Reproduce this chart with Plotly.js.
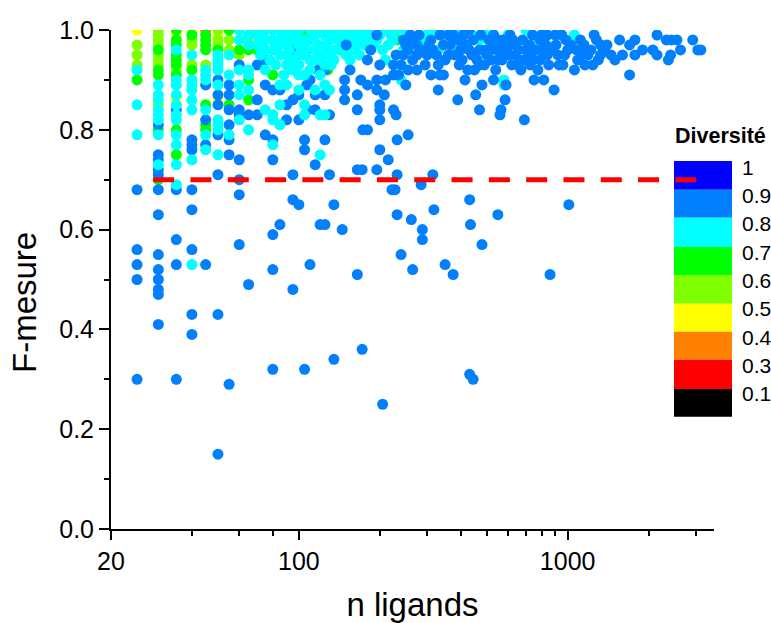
<!DOCTYPE html>
<html><head><meta charset="utf-8">
<script src="https://cdn.plot.ly/plotly-3.0.1.min.js"></script>
<style>html,body{margin:0;padding:0;background:#fff;overflow:hidden}</style></head>
<body><div id="chart" style="width:771px;height:623px"></div>
<script>
const orangePts=[[45,1.0]];
const yellowPts=[[25,1.0],[35,.99],[40,1.0],[35,.86],[30,.86],[50,.86],[50,.99],[65,.98]];
const limePts=[[25,.97],[25,.95],[25,.93],[30,1.0],[30,.99],[30,.98],[30,.97],[30,.95],[30,.94],[30,.93],[30,.85],
[35,.92],[40,.98],[40,.97],[40,.93],[45,.93],[50,1.0],[50,.97],[50,.98],[55,.98],[55,.96],[60,.95]];
const greenPts=[[25,.90],[30,.96],[30,.92],[30,.91],[30,.80],[30,.70],[35,1.0],[35,.98],[35,.97],[35,.95],[35,.94],[35,.93],[35,.91],[35,.80],[35,.75],
[40,.99],[40,.92],[45,.99],[45,.98],[45,.97],[45,.96],[45,.85],[45,.81],[45,.80],[50,.96],[55,1.0],[55,.85],[60,.96],[65,.96],[65,.90],[65,.86],[70,.96],[80,.91],
[92,.99],[96,.95],[105,.99],[130,1.0],[150,1.0],[128,.92],[232,.98]];
const blueLow=[[25,.68],[25,.56],[25,.53],[25,.50],[25,.30],[30,.81],[30,.75],[30,.74],[30,.72],[30,.71],[30,.68],[30,.63],[30,.55],[30,.52],[30,.50],[30,.48],[30,.47],[30,.41],
[35,.84],[35,.68],[35,.58],[35,.53],[35,.30],[40,.78],[40,.77],[40,.76],[40,.68],[40,.64],[40,.56],[40,.43],[40,.39],[45,.89],[45,.82],[45,.77],[45,.53],
[50,.90],[50,.87],[50,.85],[50,.79],[50,.71],[50,.43],[50,.15],[55,.89],[55,.87],[55,.84],[55,.81],[55,.78],[55,.75],[55,.29],[60,.93],[60,.84],[60,.83],[60,.74],[60,.70],[60,.67],[60,.57],
[65,.83],[65,.49],[70,.93],[70,.86],[70,.83],[75,.94],[75,.89],[75,.79],[80,.88],[80,.78],[80,.74],[80,.59],[80,.52],[80,.32],[85,.88],[85,.61],[90,.85],[90,.82],[95,.86],[95,.96],[95,.93],[95,.71],[95,.66],[95,.48],[100,.65],
[100,.87],[100,.82],[105,.78],[105,.76],[105,.32],[107,.89],[108,.84],[110,.90],[110,.53],[115,.87],[115,.84],[115,.73],[118,.92],[120,.61],[125,.92],[125,.87],[125,.78],[125,.61],[130,.83],[130,.71],[135,.65],[135,.34],[145,.60]];
const cyanPts=[[25,.92],[25,.85],[25,.79],[30,.89],[30,.87],[30,.86],[30,.84],[30,.83],[30,.82],[30,.79],[30,.73],[35,.96],[35,.90],[35,.89],[35,.87],[35,.85],[35,.83],[35,.82],[35,.79],[35,.77],[35,.73],[35,.69],
[40,.95],[40,.90],[40,.89],[40,.88],[40,.86],[40,.84],[40,.74],[40,.53],[45,.92],[45,.91],[45,.90],[45,.84],[45,.79],[45,.76],[50,.95],[50,.94],[50,.93],[50,.92],[50,.89],[50,.82],[50,.81],[50,.80],[50,.75],
[55,.95],[55,.91],[55,.79],[60,1.0],[60,.98],[60,.92],[60,.89],[60,.87],[60,.82],[65,.99],[65,.97],[65,.92],[65,.91],[65,.88],[65,.80],[70,.99],[70,1.0],[75,1.0],[75,.98],[75,.92],[75,.84],
[80,.98],[80,.96],[80,.83],[80,.82],[80,.77],[85,1.0],[85,.98],[85,.95],[85,.89],[85,.85],[85,.81],[90,1.0],[90,.97],[90,.95],[90,.93],[95,1.0],[95,.98],[95,.94],[100,1.0],[100,.97],[100,.91],[100,.88],
[105,.98],[105,.95],[105,.91],[105,.85],[105,.83],[110,1.0],[110,.98],[110,.94],[115,.99],[115,.96],[115,.88],[120,1.0],[120,.94],[120,.83],[120,.75],[125,.99],[125,.97],[125,.93],[125,.89],[125,.83],[130,.98],[130,.95],[130,.88],
[135,1.0],[135,.96],[135,.94],[140,.98],[145,.99],[150,.95],[155,.98],[155,.94],[160,1.0],[165,.97],[170,.99],[180,.98],[180,1.0],[190,.97],[200,.99],[205,.96],[210,.94],[210,1.0],[225,.98],[240,.90],[250,1.0],[270,.98],[300,.99],[315,1.0],
[340,.99],[385,.97],[400,1.0],[440,.99],[470,.98],[495,.99],[530,.99],[480,.96],[580,.90],[580,.89],[600,.99],[700,1.0],[755,.98],[815,.98],[1060,.99],
[70,.97],[72,.95],[75,.96],[78,.94],[80,1.0],[82,.93],[85,.97],[88,.99],[88,.91],[90,.89],[92,.96],[95,.92],[98,.99],[100,.95],[100,.93],[103,.97],[108,.96],[110,.92],[112,.99],[115,.94],[118,.97],[120,.91],[122,.95],[128,1.0],[128,.96],[132,.93],[138,.99],[142,.96],[148,.98],[152,1.0],[158,.96],[162,.99],[168,.95],[175,.97],[185,1.0],[195,.98],[205,1.0],[215,.97],[220,.99],[235,1.0],[245,.96],[290,.98],[330,.96]];
const blueHigh=[[148,.90],[148,.88],[148,.86],[155,.92],[150,.97],[165,.87],[165,.84],[165,.72],[172,.72],[170,.90],[173,.80],[180,.80],[180,.94],[180,.89],[185,.96],[165,.51],[172,.36],[195,.88],[195,.72],[195,.90],[195,.99],
[200,.93],[200,.85],[200,.84],[200,.82],[200,.76],[205,.25],[208,.87],[210,.90],[215,.74],[222,.68],[225,.93],[225,.91],[225,.84],[228,.68],[230,.83],[230,.95],[232,.78],[232,.63],[232,.71],[235,.91],[240,.93],[240,.55],[245,.98],[250,.89],[250,.97],[255,.92],[255,.79],[260,.99],
[262,.62],[265,.94],[265,.52],[275,.92],[275,.95],[275,.97],[280,.99],[285,.69],[288,.60],[288,.58],[310,.98],[310,.91],[315,.96],[315,.71],[318,.64],[330,.93],[330,.88],[335,.91],[345,.91],[350,.53],[360,.95],[360,.99],[375,.51],[390,.86],[395,.93],[410,.99],[415,.90],
[430,.96],[432,.66],[435,.61],[432,.31],[445,.30],[450,.92],[455,.87],[470,.84],[470,.93],[480,.89],[480,.57],[490,.93],[495,.96],[510,.98],[530,.97],[530,.99],[530,.90],[540,.92],[550,.94],[550,.63],[560,.83],[565,.84],[570,.94],[585,.86],[590,.97],[590,.95],[590,.89],[620,.93],[640,.97],[640,.95],
[670,.92],[690,.82],[715,.95],[725,.93],[740,.99],[750,.90],[775,.92],[800,.96],[815,.90],[840,.99],[840,.95],[860,.51],[890,.88],[905,.97],[920,.95],[950,.99],[960,.93],[985,.98],[1000,.96],[1010,.65],[1090,.94],[1115,.98],[1150,.97],[1160,.93],[1190,.95],[1255,.99],[1300,.94],[1325,.97],[1325,.95],[1370,.96],[1450,.95],
[1560,.98],[1600,.95],[1700,.97],[1700,.91],[1780,.98],[1780,.95],[1900,.96],[2075,.96],[2150,.99],[2150,.95],[2330,.98],[2370,.94],[2415,.95],[2430,.98],[2550,.98],[2630,.96],[2920,.98],[3050,.96],[3130,.96],
[245,.95],[255,.96],[265,.98],[285,.96],[295,.93],[300,.95],[305,.97],[325,.95],[335,.99],[345,.97],[350,.94],[365,.97],[375,.99],[380,.95],[390,.98],[400,.96],[405,.94],[420,.97],[425,.92],[440,.95],[445,.98],[460,.94],[470,.96],[475,.99],[500,.95],[515,.96],[520,.94],[545,.96],[555,.98],[570,.96],[575,.98],[605,.95],[610,.97],[610,.99],[625,.98],[650,.93],[655,.96],[680,.98],[685,.94],[700,.96],[720,.97],[745,.94],[760,.96],[790,.94],[790,.98],[830,.97],[850,.93],[880,.96],[900,.99],[930,.93],[975,.95],[1030,.97],[1060,.92],[1080,.96],[1130,.95],[1220,.96],[1240,.93],[1280,.98],[1400,.97],[1500,.94],[800,.99],[430,1.0]];
const cutoffN=[28.7,3000];
const cutoffF=[.70,.70];
const legendTitle="Diversité";
const legendLabels=["1","0.9","0.8","0.7","0.6","0.5","0.4","0.3","0.1"];
const legendColors=["#0000ff","#0080ff","#00ffff","#00ff00","#80ff00","#ffff00","#ff8000","#ff0000","#000000"];
const xTicks=[20,100,1000];
const xMinor=[40,60,80,200,300,400,500,600,700,800,900,2000,3000];

const W=771,H=623,L=111,R=714,T=30,B=529;
const font="Liberation Sans, Arial, sans-serif";
const traceOf=(pts,color)=>({type:"scatter",mode:"markers",x:pts.map(p=>p[0]),y:pts.map(p=>p[1]),marker:{color:color,size:11,line:{width:0}},hoverinfo:"x+y"});
const data=[traceOf(orangePts,"#ff8000"),traceOf(yellowPts,"#ffff00"),traceOf(limePts,"#80ff00"),traceOf(greenPts,"#00ff00"),traceOf(blueLow,"#0080ff"),traceOf(cyanPts,"#00ffff"),traceOf(blueHigh,"#0080ff"),
{type:"scatter",mode:"lines",x:cutoffN,y:cutoffF,line:{color:"#ff0000",width:5,dash:"21px,16.3px"},hoverinfo:"skip"}];

const edges=[161,189.7,217.7,247,275,303.7,331.7,359.7,389,416.7];
const labelY=[167,195,223,252,280,308,337,365,393];
const px=v=>(v-L)/(R-L), py=v=>(B-v)/(B-T);
const shapes=legendColors.map((c,i)=>({type:"rect",layer:"below",xref:"paper",yref:"paper",x0:px(674),x1:px(732),y0:py(edges[i+1]),y1:py(edges[i]),fillcolor:c,line:{width:0}}));
const annotations=legendLabels.map((t,i)=>({text:t,xref:"paper",yref:"paper",x:px(741),y:py(labelY[i]),xanchor:"left",yanchor:"middle",showarrow:false,font:{family:font,size:21,color:"#000"},borderpad:0}));
annotations.push({text:"<b>"+legendTitle+"</b>",xref:"paper",yref:"paper",x:px(675),y:py(136),xanchor:"left",yanchor:"middle",showarrow:false,font:{family:font,size:21.5,color:"#000"},borderpad:0,borderwidth:0});
annotations.push({text:"F-mesure",xref:"paper",yref:"paper",x:px(24.5),y:py(302.5),xanchor:"center",yanchor:"middle",textangle:-90,showarrow:false,font:{family:font,size:33,color:"#000"}});

const layout={width:W,height:H,margin:{l:L,r:W-R,t:T,b:H-B,pad:0},paper_bgcolor:"#fff",plot_bgcolor:"#fff",showlegend:false,font:{family:font,color:"#000"},
xaxis:{type:"log",range:[Math.log10(20),3.5445],showgrid:false,zeroline:false,showline:true,linecolor:"#000",linewidth:2,ticks:"outside",ticklen:9,tickwidth:2,tickcolor:"#000",tickmode:"array",tickvals:xTicks,ticktext:xTicks.map(String),tickfont:{family:font,size:25},
 minor:{tickmode:"array",tickvals:xMinor,ticks:"outside",ticklen:5,tickwidth:2,tickcolor:"#000",showgrid:false},title:{text:"n ligands",font:{family:font,size:33},standoff:22},automargin:false},
yaxis:{range:[0,1],showgrid:false,zeroline:false,showline:true,linecolor:"#000",linewidth:2,ticks:"outside",ticklen:10,tickwidth:2,tickcolor:"#000",tick0:0,dtick:.2,tickformat:".1f",tickfont:{family:font,size:25},
 minor:{dtick:.1,ticks:"outside",ticklen:5,tickwidth:2,tickcolor:"#000",showgrid:false},automargin:false},
shapes:shapes,annotations:annotations};
Plotly.newPlot("chart",data,layout,{displayModeBar:false,staticPlot:true});
</script></body></html>
